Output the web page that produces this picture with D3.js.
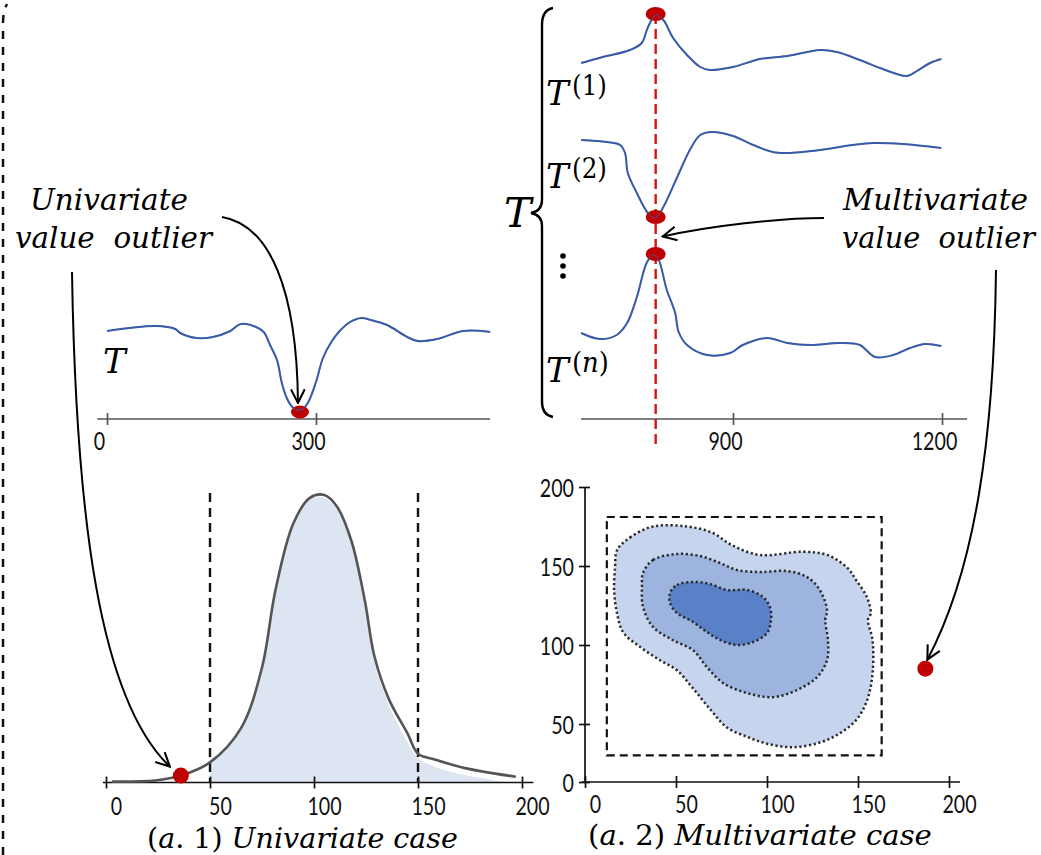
<!DOCTYPE html>
<html><head><meta charset="utf-8">
<script src="https://cdn.jsdelivr.net/npm/d3@7"></script>
<style>body{margin:0;background:#fff}</style>
</head><body><svg id="c" width="1041" height="855"></svg>
<script>
// ---------------- DATA ----------------
// (top-left) univariate series T
const uniT = [0,70,98,105,129,152,177,192,214,225,234,244,251,258,266,273,281,289,300,310,322,334,349,365,379,402,431,446,474,511,550];
const uniV = [87,92,89,85,80,81,87,94,91,86,73,58,35,20,11,8,9,16,36,60,76,87,96,100,98,93,81,77,79,87,86];
const uniTicks = [0,300];
const uniOutlierT = [277];
const uniOutlierV = [6];

// (top-right) multivariate series T(1), T(2), T(n)
const t1T = [682,713,752,769,778,789,800,814,834,853,867,900,939,978,1025,1049,1082,1111,1135,1150,1164,1183,1199];
const t1V = [27,33,40,47,63,75,70,52,35,23,20,23,31,34,40,38,30,22,16,14,19,27,31];
const t2T = [682,719,738,745,749,762,778,789,800,820,838,853,870,900,929,957,978,1025,1072,1101,1144,1199];
const t2V = [90,88,85,77,57,37,17,12,23,53,80,95,98,94,85,78,77,80,85,87,86,82];
const tnT = [682,709,733,748,762,776,785,792,805,817,822,834,863,896,914,949,978,1011,1054,1082,1104,1130,1154,1176,1199];
const tnV = [37,31,35,47,73,107,115,112,80,57,38,25,15,17,25,32,27,25,27,25,13,15,22,26,24];
const multiTicks = [900,1200];
const multiOutlierT = 789;
const multiOutlierV = [76,13,116];
const seriesLabels = ["1","2","n"];

// (a.1) density
const densX = [2.9,23.6,36,50,65,75,81.5,90,98,105,111,118,124.5,129,136,145,150,158,172.6,197];
const densY = [0.003,0.007,0.024,0.07,0.19,0.40,0.67,0.90,0.99,1.0,0.96,0.84,0.63,0.44,0.29,0.17,0.10,0.08,0.05,0.02];
const fillX = [50,65,75,81.5,90,98,105,111,118,124.5,129,136,145,150,158,172.6,185,193];
const fillY = [0.07,0.19,0.40,0.67,0.90,0.985,0.99,0.95,0.83,0.61,0.42,0.27,0.14,0.085,0.055,0.025,0.01,0];
const densTicks = [0,50,100,150,200];
const densBounds = [50,150];
const densOutlierX = [36];
const densOutlierY = [0.024];

// (a.2) bivariate contours
const outerX = [17.6,24.7,37.4,56,70,81,96,120,133,144,149,155,157,155.5,158,158,155,149,140,129,114,100,89,78,69,59,50.5,41,30,21,17.6,16,16.5];
const outerY = [160,168,175,175,171,163,157,159,157,149,141,130,120,116,103,82,65,52.5,42,34,30,33,39,47,59,73,84,90.5,99,108,120,135,149];
const midX = [31.9,37.4,50.5,63.2,74.2,83.5,96.2,111,122,129,133,132,133.5,133,127.5,116.5,103.3,89,75.8,67,59.3,48.4,37.4,31.9,31.3];
const midY = [145.6,153.8,157.6,156.3,151.9,147.5,146.2,146.8,143,134.8,122,115.8,103,90.5,79.7,71.5,67,69.6,76,86,96.8,103,111.4,124,136.7];
const innerX = [46.7,50.5,59.3,68.7,78,89,97.8,101.6,102.2,100,92.3,83.5,74.2,67,59.3,50.5,46.7];
const innerY = [132.9,138,139.9,138.6,134.8,134.8,130.4,124,115.8,107.6,101.9,100,103.2,108.2,114.6,120.3,126.6];
const bivTicks = [0,50,100,150,200];
const boxX = [12,163];
const boxY = [23,181];
const bivOutlierX = [187];
const bivOutlierY = [85];

// ---------------- DRAW ----------------
const svg = d3.select('#c');
const RED = '#c00000', BLUE = '#3a5ca8';
const SERIF = '"DejaVu Serif", serif';
const TICKFONT = 'Lato, "Open Sans", sans-serif';
const fmt = d3.format('d');

svg.append('defs').append('marker')
  .attr('id','arr').attr('viewBox','-1 -1 14 14').attr('refX',12).attr('refY',6)
  .attr('markerWidth',16).attr('markerHeight',16).attr('markerUnits','userSpaceOnUse').attr('orient','auto')
  .append('path').attr('d','M0,0 L12,6 L0,12').attr('fill','none').attr('stroke','#000').attr('stroke-width',1.8);

function styleTickText(sel) {
  sel.style('font-family',TICKFONT).style('font-size','25px').attr('fill','#111')
    .attr('textLength',d=>fmt(d).length*11.4).attr('lengthAdjust','spacingAndGlyphs');
}

function hAxis(scale, ticks, y, ext, o) {
  svg.append('line').attr('x1',scale(ext[0])).attr('x2',scale(ext[1])).attr('y1',y).attr('y2',y)
    .attr('stroke',o.color).attr('stroke-width',1.7);
  const a = svg.append('g').attr('transform',`translate(0,${y})`)
    .call(d3.axisBottom(scale).tickValues(ticks).tickFormat(fmt).tickSize(0).tickSizeOuter(0));
  a.select('.domain').remove();
  a.selectAll('.tick line').attr('y1',-6).attr('y2',6).attr('stroke',o.color).attr('stroke-width',1.7);
  a.selectAll('.tick text').attr('y',o.labelY).attr('dy',null).attr('dx',o.dx).call(styleTickText);
}

// text scaled horizontally (via transform) to a target width
function mathText(x, y, parts, size, len, anchor) {
  const t = svg.append('text').attr('x',0).attr('y',0).attr('font-family',SERIF).attr('font-size',size).attr('fill','#000')
    .attr('text-anchor',anchor||'start').style('white-space','pre');
  parts.forEach(p => t.append('tspan').attr('font-style',p[1]?'italic':'normal').text(p[0]));
  let sx = 1;
  if (len) { const w = t.node().getComputedTextLength(); if (w > 0) sx = len / w; }
  t.attr('transform',`translate(${x},${y}) scale(${sx},1)`);
  return t;
}

// left dashed border
svg.append('path').attr('d','M3,855 L3,22 Q3,12 7,4').attr('fill','none').attr('stroke','#111')
  .attr('stroke-width',2.5).attr('stroke-dasharray','8,8');

// ---- top-left: univariate series ----
const xUni = d3.scaleLinear([0,300],[107,316]);
const yUni = d3.scaleLinear([0,100],[418,318]);
const lineUni = d3.line().x((d,i)=>xUni(uniT[i])).y(d=>yUni(d)).curve(d3.curveCatmullRom);
hAxis(xUni, uniTicks, 419, [-14,550], {color:'#555', labelY:31, dx:-8});
svg.append('path').attr('d',lineUni(uniV)).attr('fill','none').attr('stroke',BLUE).attr('stroke-width',2);
svg.selectAll('.uo').data(uniOutlierT).enter().append('ellipse')
  .attr('cx',d=>xUni(d)).attr('cy',(d,i)=>yUni(uniOutlierV[i])).attr('rx',9).attr('ry',6.5).attr('fill',RED);
svg.append('path').attr('d',lineUni(uniV)).attr('fill','none').attr('stroke',BLUE).attr('stroke-width',1.5).attr('opacity',0.6);
mathText(103, 373, [['T',true]], 34);

// ---- top-right: multivariate series ----
const xMul = d3.scaleLinear([900,1200],[733,942]);
const rowBase = [90,230,370];
const yRows = rowBase.map(b => d3.scaleLinear([0,100],[b,b-100]));
const mSeries = [[t1T,t1V],[t2T,t2V],[tnT,tnV]];
hAxis(xMul, multiTicks, 419, [682,1236], {color:'#555', labelY:31, dx:-8});
svg.append('line').attr('x1',xMul(multiOutlierT)).attr('x2',xMul(multiOutlierT))
  .attr('y1',yRows[0](multiOutlierV[0])).attr('y2',445)
  .attr('stroke','#d01515').attr('stroke-width',2.4).attr('stroke-dasharray','10,5');
mSeries.forEach((s,k) => {
  const ln = d3.line().x((d,i)=>xMul(s[0][i])).y(d=>yRows[k](d)).curve(d3.curveCatmullRom);
  svg.append('path').attr('d',ln(s[1])).attr('fill','none').attr('stroke',BLUE).attr('stroke-width',2);
});
multiOutlierV.forEach((v,k) => {
  svg.append('ellipse').attr('cx',xMul(multiOutlierT)).attr('cy',yRows[k](v)).attr('rx',10).attr('ry',7).attr('fill',RED);
});
mSeries.forEach((s,k) => {
  const ln = d3.line().x((d,i)=>xMul(s[0][i])).y(d=>yRows[k](d)).curve(d3.curveCatmullRom);
  svg.append('path').attr('d',ln(s[1])).attr('fill','none').attr('stroke',BLUE).attr('stroke-width',1.4).attr('opacity',0.5);
});
// brace and labels
svg.append('path').attr('d','M553,8 Q542,10 542,25 L542,200 Q542,211 531,213 Q542,215 542,226 L542,402 Q542,415 553,417')
  .attr('fill','none').attr('stroke','#000').attr('stroke-width',2.4);
mathText(504, 227, [['T',true]], 41);
const labelBase = [105,188,382];
seriesLabels.forEach((s,k) => {
  mathText(546, labelBase[k], [['T',true]], 34);
  mathText(572, labelBase[k]-10, [['(',false],[s, s==='n'],[')',false]], 27, s==='n'?37:35);
});
[256,266,276].forEach(y => svg.append('circle').attr('cx',563).attr('cy',y).attr('r',2.8).attr('fill','#000'));

// ---- (a.1) density ----
const xDen = d3.scaleLinear([0,200],[106,522]);
const yDen = d3.scaleLinear([0,1],[782.5,495]);
const area = d3.area().x((d,i)=>xDen(fillX[i])).y0(yDen(0)).y1(d=>yDen(d)).curve(d3.curveCatmullRom);
svg.append('path').attr('d',area(fillY)).attr('fill','#dde5f3');
hAxis(xDen, densTicks, 782.5, [-1.5,205.5], {color:'#111', labelY:32, dx:10});
densBounds.forEach(b => svg.append('line').attr('x1',xDen(b)).attr('x2',xDen(b)).attr('y1',493).attr('y2',782)
  .attr('stroke','#111').attr('stroke-width',2.4).attr('stroke-dasharray','9,6'));
const dline = d3.line().x((d,i)=>xDen(densX[i])).y(d=>yDen(d)).curve(d3.curveCatmullRom);
svg.append('path').attr('d',dline(densY)).attr('fill','none').attr('stroke','#555').attr('stroke-width',2.6);
svg.selectAll('.do').data(densOutlierX).enter().append('circle')
  .attr('cx',d=>xDen(d)).attr('cy',(d,i)=>yDen(densOutlierY[i])).attr('r',8).attr('fill',RED);
mathText(147, 848, [['(',false],['a',true],['. 1) ',false],['Univariate case',true]], 28, 311);

// ---- (a.2) bivariate ----
const xBiv = d3.scaleLinear([0,200],[585,949]);
const yBiv = d3.scaleLinear([0,50,200],[782,724,487]);
const blob = d3.line().x(d=>xBiv(d[0])).y(d=>yBiv(d[1])).curve(d3.curveCatmullRomClosed.alpha(0.5));
[[outerX,outerY,'#c6d4ee'],[midX,midY,'#9db4df'],[innerX,innerY,'#5a80c8']].forEach(b => {
  const pts = b[0].map((x,i)=>[x,b[1][i]]);
  svg.append('path').attr('d',blob(pts)).attr('fill',b[2]).attr('stroke','#2a2a2a')
    .attr('stroke-width',2.5).attr('stroke-dasharray','2.2,2.6');
});
svg.append('rect').attr('x',xBiv(boxX[0])).attr('y',yBiv(boxY[1]))
  .attr('width',xBiv(boxX[1])-xBiv(boxX[0])).attr('height',yBiv(boxY[0])-yBiv(boxY[1]))
  .attr('fill','none').attr('stroke','#111').attr('stroke-width',2.2).attr('stroke-dasharray','8,5');
hAxis(xBiv, bivTicks, 782, [-1.6,206], {color:'#111', labelY:31, dx:10});
svg.append('line').attr('x1',xBiv(0)).attr('x2',xBiv(0)).attr('y1',yBiv(0)).attr('y2',yBiv(200))
  .attr('stroke','#111').attr('stroke-width',1.7);
const ya = svg.append('g').attr('transform',`translate(${xBiv(0)},0)`)
  .call(d3.axisLeft(yBiv).tickValues(bivTicks).tickFormat(fmt).tickSize(0).tickSizeOuter(0));
ya.select('.domain').remove();
ya.selectAll('.tick line').attr('x1',-6).attr('x2',5).attr('stroke','#111').attr('stroke-width',1.7);
ya.selectAll('.tick text').attr('x',-11).attr('dy','0.36em').call(styleTickText);
svg.selectAll('.bo').data(bivOutlierX).enter().append('circle')
  .attr('cx',d=>xBiv(d)).attr('cy',(d,i)=>yBiv(bivOutlierY[i])).attr('r',8).attr('fill',RED);
mathText(588, 845, [['(',false],['a',true],['. 2) ',false],['Multivariate case',true]], 28, 344);

// ---- annotations ----
mathText(30, 210, [['Univariate',true]], 30, 158);
mathText(15, 248, [['value\u00a0 outlier',true]], 30, 197);
mathText(1028, 210, [['Multivariate',true]], 30, 185, 'end');
mathText(1035, 248, [['value\u00a0 outlier',true]], 30, 193, 'end');

function arrow(p0, c1, c2, p1) {
  const p = d3.path();
  p.moveTo(p0[0],p0[1]); p.bezierCurveTo(c1[0],c1[1],c2[0],c2[1],p1[0],p1[1]);
  svg.append('path').attr('d',p.toString()).attr('fill','none').attr('stroke','#000')
    .attr('stroke-width',2).attr('marker-end','url(#arr)');
}
const uo = [xUni(uniOutlierT[0]), yUni(uniOutlierV[0])];
arrow([222,217],[270,225],[297,290],[uo[0]-2, uo[1]-9]);
const dO = [xDen(densOutlierX[0]), yDen(densOutlierY[0])];
arrow([72,272],[76,520],[100,700],[dO[0]-11, dO[1]-9]);
const mx = xMul(multiOutlierT);
arrow([824,218],[780,218],[710,226],[mx+7,(yRows[1](multiOutlierV[1])+yRows[2](multiOutlierV[2]))/2+1]);
const bo = [xBiv(bivOutlierX[0]), yBiv(bivOutlierY[0])];
arrow([996,270],[994,440],[975,570],[bo[0]+2, bo[1]-9]);
</script></body></html>
